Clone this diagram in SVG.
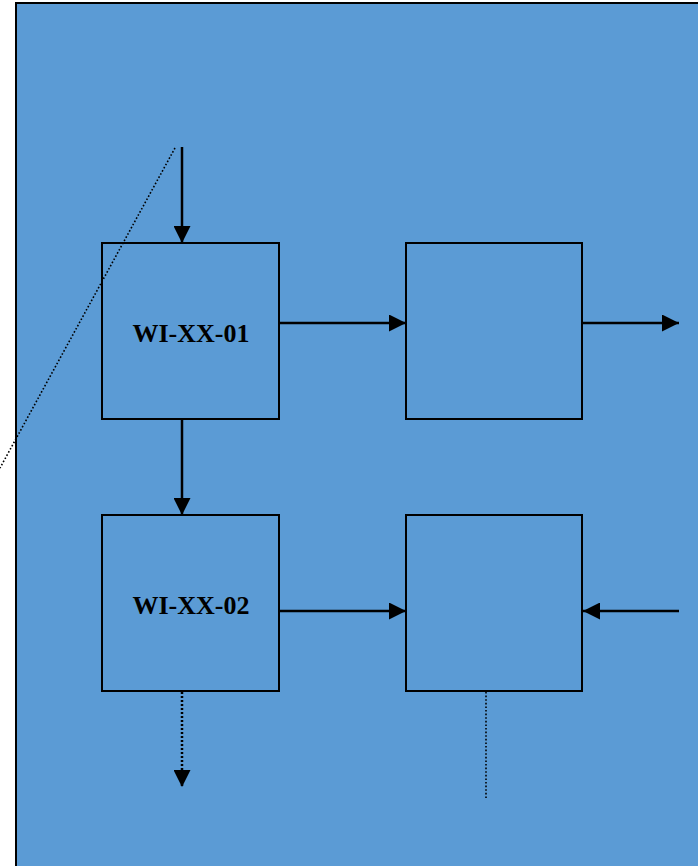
<svg xmlns="http://www.w3.org/2000/svg" width="698" height="866" viewBox="0 0 698 866">
<style>
.box{fill:none;stroke:#000;stroke-width:2}
.ln{stroke:#000;stroke-width:2.5;fill:none}
.dot{stroke:#000;stroke-width:2.5;fill:none;stroke-dasharray:2 2}
.dot1{stroke:#000;stroke-width:1.6;fill:none;stroke-dasharray:1.6 2}
.lbl{font-family:"Liberation Serif",serif;font-weight:bold;font-size:26px;fill:#000;text-anchor:middle}
</style>
<defs>
<marker id="ah" markerUnits="userSpaceOnUse" markerWidth="17" markerHeight="17" viewBox="0 0 17 17" refX="17" refY="8.5" orient="auto">
<path d="M0,0 L17,8.5 L0,17 Z" fill="#000"/>
</marker>
</defs>
<rect x="0" y="0" width="698" height="866" fill="#fff"/>
<rect x="16" y="3" width="700" height="880" fill="#5B9BD5" stroke="#000" stroke-width="2"/>
<g id="n1"><rect class="box" x="102" y="243" width="177" height="176"/><text class="lbl" x="191" y="342">WI-XX-01</text></g>
<g id="n2"><rect class="box" x="406" y="243" width="176" height="176"/></g>
<g id="n3"><rect class="box" x="102" y="515" width="177" height="176"/><text class="lbl" x="191" y="614">WI-XX-02</text></g>
<g id="n4"><rect class="box" x="406" y="515" width="176" height="176"/></g>
<g id="connectors">
<line class="dot1" x1="175" y1="148" x2="0" y2="468"/>
<line class="ln" x1="182" y1="147" x2="182" y2="243" marker-end="url(#ah)"/>
<line class="ln" x1="279" y1="323" x2="406" y2="323" marker-end="url(#ah)"/>
<line class="ln" x1="582" y1="323" x2="679" y2="323" marker-end="url(#ah)"/>
<line class="ln" x1="182" y1="419" x2="182" y2="515" marker-end="url(#ah)"/>
<line class="ln" x1="279" y1="611" x2="406" y2="611" marker-end="url(#ah)"/>
<line class="ln" x1="679" y1="611" x2="583" y2="611" marker-end="url(#ah)"/>
<line class="dot" x1="182" y1="692" x2="182" y2="787" marker-end="url(#ah)"/>
<line class="dot1" x1="486" y1="692" x2="486" y2="800"/>
</g>
</svg>
